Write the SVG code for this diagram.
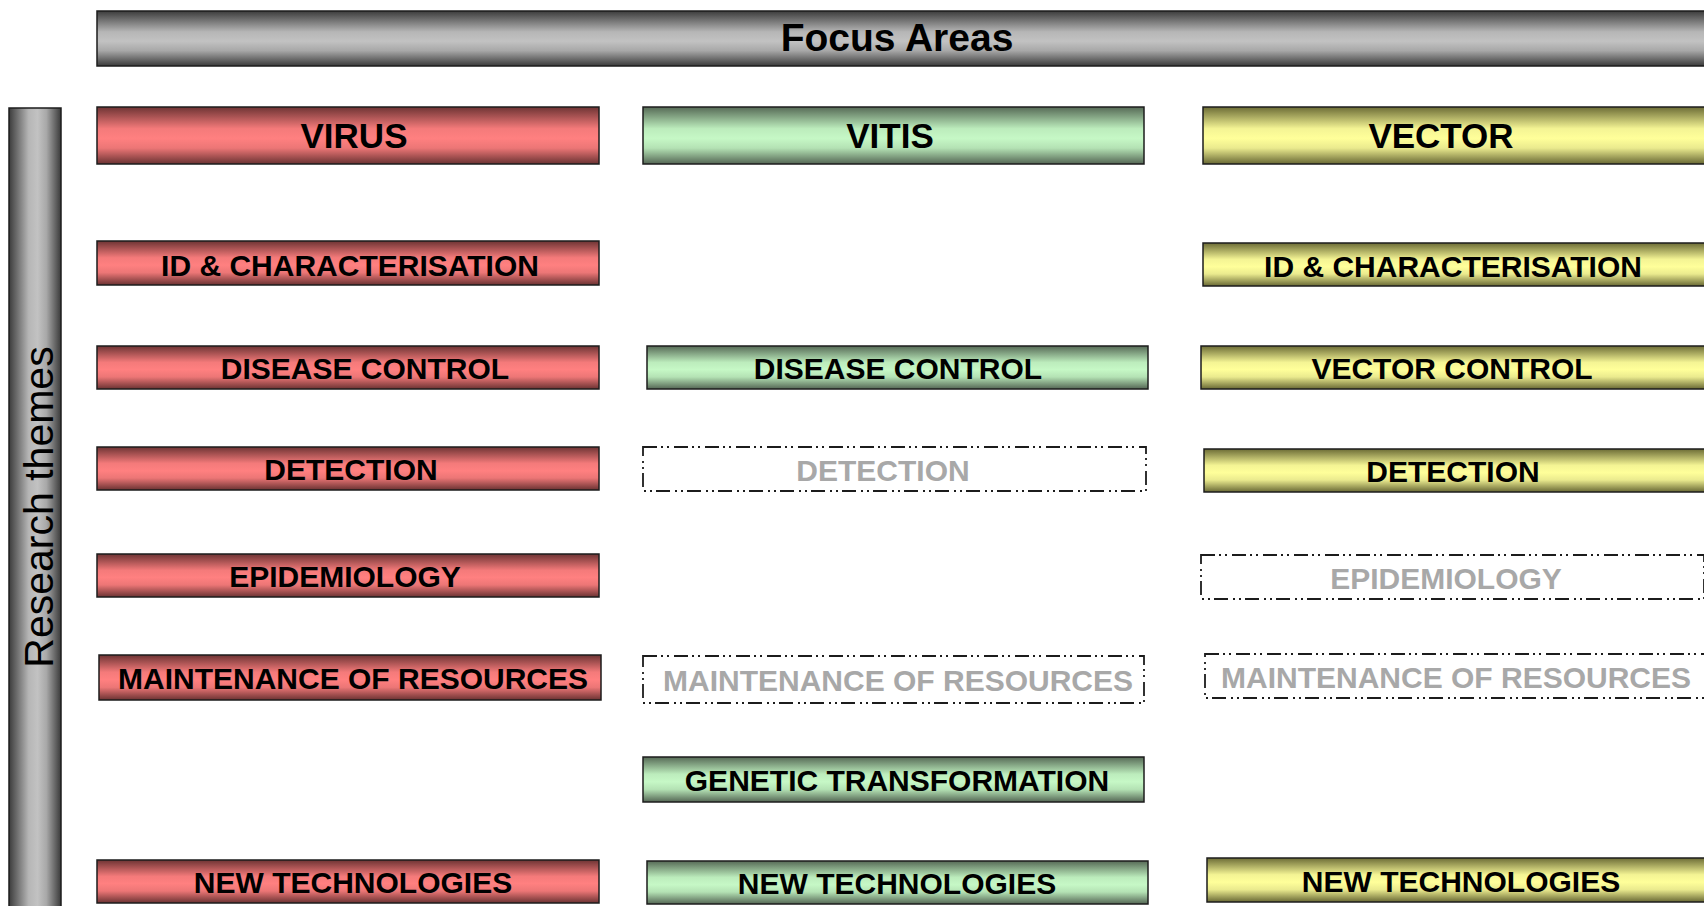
<svg xmlns="http://www.w3.org/2000/svg" width="1704" height="906" viewBox="0 0 1704 906">
<defs>
<linearGradient id="gGray" x1="0" y1="0" x2="0" y2="1">
<stop offset="0" stop-color="#3c3c3c"/><stop offset="0.38" stop-color="#b6b6b6"/><stop offset="0.55" stop-color="#c2c2c2"/><stop offset="0.72" stop-color="#a8a8a8"/><stop offset="1" stop-color="#3a3a3a"/>
</linearGradient>
<linearGradient id="gGrayV" x1="0" y1="0" x2="1" y2="0">
<stop offset="0" stop-color="#3c3c3c"/><stop offset="0.38" stop-color="#b6b6b6"/><stop offset="0.55" stop-color="#c2c2c2"/><stop offset="0.72" stop-color="#a8a8a8"/><stop offset="1" stop-color="#3a3a3a"/>
</linearGradient>
<linearGradient id="gRed" x1="0" y1="0" x2="0" y2="1">
<stop offset="0" stop-color="#6e3434"/><stop offset="0.38" stop-color="#f47a7a"/><stop offset="0.55" stop-color="#ff8080"/><stop offset="0.72" stop-color="#ec7676"/><stop offset="1" stop-color="#6a3232"/>
</linearGradient>
<linearGradient id="gGreen" x1="0" y1="0" x2="0" y2="1">
<stop offset="0" stop-color="#566a56"/><stop offset="0.38" stop-color="#bcecbc"/><stop offset="0.55" stop-color="#c6f8c6"/><stop offset="0.72" stop-color="#b4e2b4"/><stop offset="1" stop-color="#546654"/>
</linearGradient>
<linearGradient id="gYellow" x1="0" y1="0" x2="0" y2="1">
<stop offset="0" stop-color="#6c6c36"/><stop offset="0.38" stop-color="#f4f494"/><stop offset="0.55" stop-color="#ffff9a"/><stop offset="0.72" stop-color="#eaea8e"/><stop offset="1" stop-color="#686834"/>
</linearGradient>
</defs>
<style>
.red,.green,.yellow,.gray,.grayv{stroke:#1c1c1c;stroke-width:1.5}
.red{fill:url(#gRed)}
.green{fill:url(#gGreen)}
.yellow{fill:url(#gYellow)}
.gray{fill:url(#gGray)}
.grayv{fill:url(#gGrayV)}
.dash{fill:#ffffff;stroke:#1c1c1c;stroke-width:1.8;stroke-dasharray:14 4 2 4 2 5}
text{font-family:"Liberation Sans",Arial,sans-serif;font-weight:bold;text-anchor:middle;fill:#000000}
.lbl{font-size:30px}
.hd{font-size:35px}
.ghost{font-size:30px;fill:#a8a8a8}
.title{font-size:39px}
.side{font-size:41px;font-weight:normal}
</style>
<rect width="1704" height="906" fill="#ffffff"/>

<g id="focus-areas">
<rect class="gray" x="97" y="11" width="1620" height="55"/>
<text class="title" x="897" y="51">Focus Areas</text>
</g>

<g id="research-themes">
<rect class="grayv" x="9" y="108" width="52" height="810"/>
<text class="side" transform="translate(53,507) rotate(-90)">Research themes</text>
</g>

<g id="virus">
<rect class="red" x="97" y="107" width="502" height="57"/>
<text class="hd" x="354" y="148">VIRUS</text>
</g>
<g id="virus-id">
<rect class="red" x="97" y="241" width="502" height="44"/>
<text class="lbl" x="350" y="276">ID &amp; CHARACTERISATION</text>
</g>
<g id="virus-disease-control">
<rect class="red" x="97" y="346" width="502" height="43"/>
<text class="lbl" x="365" y="379">DISEASE CONTROL</text>
</g>
<g id="virus-detection">
<rect class="red" x="97" y="447" width="502" height="43"/>
<text class="lbl" x="351" y="480">DETECTION</text>
</g>
<g id="virus-epidemiology">
<rect class="red" x="97" y="554" width="502" height="43"/>
<text class="lbl" x="345" y="587">EPIDEMIOLOGY</text>
</g>
<g id="virus-maintenance">
<rect class="red" x="99" y="655" width="502" height="45"/>
<text class="lbl" x="353" y="689">MAINTENANCE OF RESOURCES</text>
</g>
<g id="virus-new-tech">
<rect class="red" x="97" y="860" width="502" height="43"/>
<text class="lbl" x="353" y="893">NEW TECHNOLOGIES</text>
</g>

<g id="vitis">
<rect class="green" x="643" y="107" width="501" height="57"/>
<text class="hd" x="890" y="148">VITIS</text>
</g>
<g id="vitis-disease-control">
<rect class="green" x="647" y="346" width="501" height="43"/>
<text class="lbl" x="898" y="379">DISEASE CONTROL</text>
</g>
<g id="vitis-detection">
<rect class="dash" x="643" y="447" width="503" height="44"/>
<text class="ghost" x="883" y="481">DETECTION</text>
</g>
<g id="vitis-maintenance">
<rect class="dash" x="643" y="656" width="501" height="47"/>
<text class="ghost" x="898" y="691">MAINTENANCE OF RESOURCES</text>
</g>
<g id="vitis-genetic">
<rect class="green" x="643" y="757" width="501" height="45"/>
<text class="lbl" x="897" y="791">GENETIC TRANSFORMATION</text>
</g>
<g id="vitis-new-tech">
<rect class="green" x="647" y="861" width="501" height="43"/>
<text class="lbl" x="897" y="894">NEW TECHNOLOGIES</text>
</g>

<g id="vector">
<rect class="yellow" x="1203" y="107" width="502" height="57"/>
<text class="hd" x="1441" y="148">VECTOR</text>
</g>
<g id="vector-id">
<rect class="yellow" x="1203" y="243" width="502" height="43"/>
<text class="lbl" x="1453" y="277">ID &amp; CHARACTERISATION</text>
</g>
<g id="vector-control">
<rect class="yellow" x="1201" y="346" width="504" height="43"/>
<text class="lbl" x="1452" y="379">VECTOR CONTROL</text>
</g>
<g id="vector-detection">
<rect class="yellow" x="1204" y="449" width="501" height="43"/>
<text class="lbl" x="1453" y="482">DETECTION</text>
</g>
<g id="vector-epidemiology">
<rect class="dash" x="1201" y="555" width="503" height="44"/>
<text class="ghost" x="1446" y="589">EPIDEMIOLOGY</text>
</g>
<g id="vector-maintenance">
<rect class="dash" x="1205" y="654" width="500" height="44"/>
<text class="ghost" x="1456" y="688">MAINTENANCE OF RESOURCES</text>
</g>
<g id="vector-new-tech">
<rect class="yellow" x="1207" y="858" width="498" height="44"/>
<text class="lbl" x="1461" y="892">NEW TECHNOLOGIES</text>
</g>
</svg>
